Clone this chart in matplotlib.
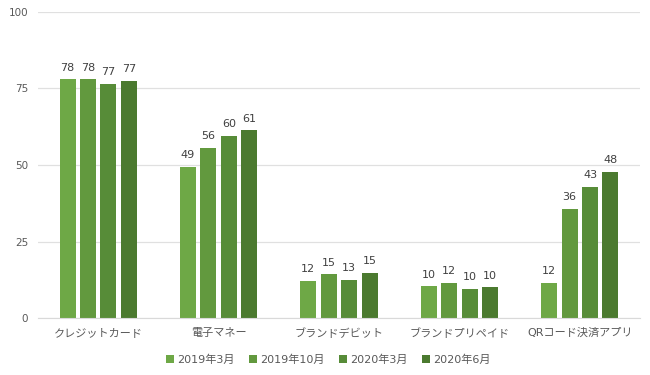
import numpy as np
import matplotlib
matplotlib.use("Agg")
import matplotlib.pyplot as plt

plt.rcParams['font.family'] = ['DejaVu Sans', 'Noto Sans CJK JP']

# === Data ===
categories = ["クレジットカード", "電子マネー", "ブランドデビット", "ブランドプリペイド", "QRコード決済アプリ"]
series = ["2019年3月", "2019年10月", "2020年3月", "2020年6月"]
mar_2019 = [77.9, 49.3, 12.3, 10.4, 11.6]
oct_2019 = [77.9, 55.6, 14.3, 11.6, 35.6]
mar_2020 = [76.4, 59.5, 12.6, 9.5, 42.9]
jun_2020 = [77.4, 61.3, 14.7, 10.1, 47.7]
labels_mar_2019 = [78, 49, 12, 10, 12]
labels_oct_2019 = [78, 56, 15, 12, 36]
labels_mar_2020 = [77, 60, 13, 10, 43]
labels_jun_2020 = [77, 61, 15, 10, 48]
yticks = [0, 25, 50, 75, 100]

values = [mar_2019, oct_2019, mar_2020, jun_2020]
labels = [labels_mar_2019, labels_oct_2019, labels_mar_2020, labels_jun_2020]
colors = ["#6EA846", "#62993E", "#578C38", "#4B7A2F"]
text_color = "#595959"

fig = plt.figure(figsize=(6.5, 3.75), dpi=100)
ax = fig.add_axes([38 / 650, 1 - 318.3 / 375, 602 / 650, 306.7 / 375])

x = np.arange(len(categories))
slot = 0.678 / 4
bar_w = slot * 0.78
for i, (vals, labs) in enumerate(zip(values, labels)):
    pos = x + (i - 1.5) * slot
    ax.bar(pos, vals, width=bar_w, color=colors[i], label=series[i], zorder=2)
    for px, v, lab in zip(pos, vals, labs):
        ax.text(px, v + 2.2, str(lab), ha="center", va="bottom",
                fontsize=8, color="#404040")

ax.set_xlim(-0.5, len(categories) - 0.5)
ax.set_ylim(0, 100)
ax.set_yticks(yticks)
ax.set_xticks(x)
ax.set_xticklabels(categories)
ax.yaxis.grid(True, color="#e0e0e0", linewidth=0.9, zorder=0)
ax.set_axisbelow(True)
for s in ["top", "right", "left"]:
    ax.spines[s].set_visible(False)
ax.spines["bottom"].set_color("#d9d9d9")
ax.tick_params(axis="both", length=0, labelsize=7.5, colors=text_color)
ax.tick_params(axis="x", pad=7, labelsize=8)
ax.tick_params(axis="y", pad=7)

leg = fig.legend(loc="center", bbox_to_anchor=(0.505, 1 - 360 / 375), ncol=4,
                 frameon=False, fontsize=8, handlelength=0.7, handleheight=0.7,
                 handletextpad=0.3, columnspacing=1.3)
for t in leg.get_texts():
    t.set_color(text_color)

fig.savefig("out.png", dpi=100)
